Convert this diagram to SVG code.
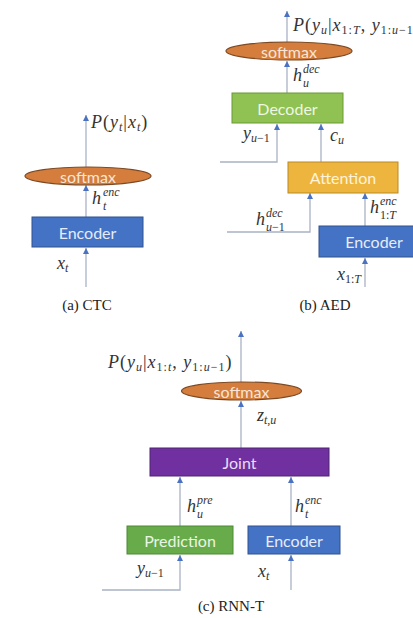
<svg xmlns="http://www.w3.org/2000/svg" width="413" height="618" viewBox="0 0 413 618">
  <style>
    .bg { fill: #ffffff; }
    .wire { fill: none; stroke: #a9b2c4; stroke-width: 1.3; marker-end: url(#tip); }
    .box-text { font-family: Lato, "Open Sans", sans-serif; font-size: 16px; text-anchor: middle; dominant-baseline: central; }
    .enc rect { fill: #4472c4; stroke: #30528f; stroke-width: 1; }
    .enc text { fill: #e6ecf8; }
    .soft ellipse { fill: #d47d3c; stroke: #7d4a24; stroke-width: 1.2; }
    .soft text { fill: #f9e5d6; }
    .dec rect { fill: #8fc153; stroke: #6a9a36; stroke-width: 1; }
    .dec text { fill: #eef7e2; }
    .att rect { fill: #eeb53e; stroke: #b88a22; stroke-width: 1; }
    .att text { fill: #fff3d8; }
    .joint rect { fill: #7030a0; stroke: #4f2270; stroke-width: 1; }
    .joint text { fill: #ecdcf5; }
    .pred rect { fill: #67ab4a; stroke: #4e8a35; stroke-width: 1; }
    .pred text { fill: #eaf5e4; }
    .m { font-family: "Liberation Serif", "Times New Roman", serif; font-style: italic; font-size: 18px; fill: #333333; }
    .wide { letter-spacing: 1px; }
    .s { font-size: 12px; }
    .n { font-style: normal; }
    .cap { font-family: "Liberation Serif", "Times New Roman", serif; font-size: 15px; fill: #222222; text-anchor: middle; }
  </style>
  <defs>
    <marker id="tip" viewBox="0 0 6 6" refX="6" refY="3" markerWidth="6" markerHeight="6" markerUnits="userSpaceOnUse" orient="auto">
      <path d="M0,0 L6,3 L0,6 z" fill="#4a72c0"/>
    </marker>
  </defs>

  <rect class="bg" x="0" y="0" width="413" height="618"/>

  <!-- connectors -->
  <g id="connectors">
    <!-- (a) CTC -->
    <path class="wire" d="M86,287 V248"/>
    <path class="wire" d="M86,217 V185"/>
    <path class="wire" d="M86,167 V115"/>
    <!-- (b) AED -->
    <path class="wire" d="M287,93 V61"/>
    <path class="wire" d="M287,42 V11"/>
    <path class="wire" d="M220,162 H277 V124"/>
    <path class="wire" d="M321,162 V124"/>
    <path class="wire" d="M227,232 H310 V193"/>
    <path class="wire" d="M365,226 V193"/>
    <path class="wire" d="M365,287 V258"/>
    <!-- (c) RNN-T -->
    <path class="wire" d="M241,448 V401"/>
    <path class="wire" d="M241,382 V331"/>
    <path class="wire" d="M180,526 V477"/>
    <path class="wire" d="M291,526 V477"/>
    <path class="wire" d="M102,590 H180 V555"/>
    <path class="wire" d="M291,590 V555"/>
  </g>

  <!-- (a) CTC nodes -->
  <g id="ctc-softmax" class="soft">
    <ellipse cx="88" cy="176" rx="63" ry="9"/>
    <text class="box-text" x="88" y="176">softmax</text>
  </g>
  <g id="ctc-encoder" class="enc">
    <rect x="32" y="217" width="111" height="30"/>
    <text class="box-text" x="87.5" y="232">Encoder</text>
  </g>

  <!-- (b) AED nodes -->
  <g id="aed-softmax" class="soft">
    <ellipse cx="289" cy="51" rx="63" ry="9"/>
    <text class="box-text" x="289" y="51">softmax</text>
  </g>
  <g id="aed-decoder" class="dec">
    <rect x="232" y="93" width="111" height="30"/>
    <text class="box-text" x="287.5" y="108">Decoder</text>
  </g>
  <g id="aed-attention" class="att">
    <rect x="288" y="162" width="110" height="31"/>
    <text class="box-text" x="343" y="177.5">Attention</text>
  </g>
  <g id="aed-encoder" class="enc">
    <rect x="319" y="226" width="110" height="31"/>
    <text class="box-text" x="374" y="241.5">Encoder</text>
  </g>

  <!-- (c) RNN-T nodes -->
  <g id="rnnt-softmax" class="soft">
    <ellipse cx="241.5" cy="391" rx="60" ry="9"/>
    <text class="box-text" x="241.5" y="391">softmax</text>
  </g>
  <g id="rnnt-joint" class="joint">
    <rect x="150" y="448" width="179" height="28"/>
    <text class="box-text" x="239.5" y="462">Joint</text>
  </g>
  <g id="rnnt-prediction" class="pred">
    <rect x="127" y="526" width="106" height="28"/>
    <text class="box-text" x="180" y="540">Prediction</text>
  </g>
  <g id="rnnt-encoder" class="enc">
    <rect x="248" y="526" width="92" height="28"/>
    <text class="box-text" x="294" y="540">Encoder</text>
  </g>

  <!-- math labels -->
  <g id="labels">
    <!-- (a) -->
    <text class="m wide" x="91" y="128">P<tspan class="n">(</tspan>y<tspan class="s" dy="3">t</tspan><tspan class="n" dy="-3">|</tspan>x<tspan class="s" dy="3">t</tspan><tspan class="n" dy="-3">)</tspan></text>
    <text class="m" x="92" y="204">h</text>
    <text class="m s" x="103" y="196">enc</text>
    <text class="m s" x="103" y="210">t</text>
    <text class="m" x="57" y="269">x<tspan class="s" dy="3">t</tspan></text>

    <!-- (b) -->
    <text class="m wide" x="293" y="31">P<tspan class="n">(</tspan>y<tspan class="s" dy="3">u</tspan><tspan class="n" dy="-3">|</tspan>x<tspan class="s" dy="3"><tspan class="n">1:</tspan>T</tspan><tspan class="n" dy="-3">, </tspan>y<tspan class="s" dy="3"><tspan class="n">1:</tspan>u<tspan class="n">−1</tspan></tspan><tspan class="n" dy="-3">)</tspan></text>
    <text class="m" x="293" y="81">h</text>
    <text class="m s" x="303" y="73">dec</text>
    <text class="m s" x="303" y="87">u</text>
    <text class="m" x="243" y="139">y<tspan class="s" dy="3">u<tspan class="n">−1</tspan></tspan></text>
    <text class="m" x="330" y="141">c<tspan class="s" dy="3">u</tspan></text>
    <text class="m" x="256" y="225">h</text>
    <text class="m s" x="266" y="217">dec</text>
    <text class="m s" x="266" y="231">u<tspan class="n">−1</tspan></text>
    <text class="m" x="370" y="213">h</text>
    <text class="m s" x="380" y="205">enc</text>
    <text class="m s" x="380" y="219"><tspan class="n">1:</tspan>T</text>
    <text class="m" x="337" y="280">x<tspan class="s" dy="3"><tspan class="n">1:</tspan>T</tspan></text>

    <!-- (c) -->
    <text class="m wide" x="108" y="368">P<tspan class="n">(</tspan>y<tspan class="s" dy="3">u</tspan><tspan class="n" dy="-3">|</tspan>x<tspan class="s" dy="3"><tspan class="n">1:</tspan>t</tspan><tspan class="n" dy="-3">, </tspan>y<tspan class="s" dy="3"><tspan class="n">1:</tspan>u<tspan class="n">−1</tspan></tspan><tspan class="n" dy="-3">)</tspan></text>
    <text class="m" x="257" y="421">z<tspan class="s" dy="3">t<tspan class="n">,</tspan>u</tspan></text>
    <text class="m" x="187" y="512">h</text>
    <text class="m s" x="197" y="504">pre</text>
    <text class="m s" x="197" y="518">u</text>
    <text class="m" x="295" y="512">h</text>
    <text class="m s" x="305" y="504">enc</text>
    <text class="m s" x="305" y="518">t</text>
    <text class="m" x="137" y="574">y<tspan class="s" dy="3">u<tspan class="n">−1</tspan></tspan></text>
    <text class="m" x="258" y="577">x<tspan class="s" dy="3">t</tspan></text>
  </g>

  <!-- captions -->
  <g id="captions">
    <text class="cap" x="87" y="310">(a) CTC</text>
    <text class="cap" x="325" y="310">(b) AED</text>
    <text class="cap" x="231" y="611">(c) RNN-T</text>
  </g>
</svg>
